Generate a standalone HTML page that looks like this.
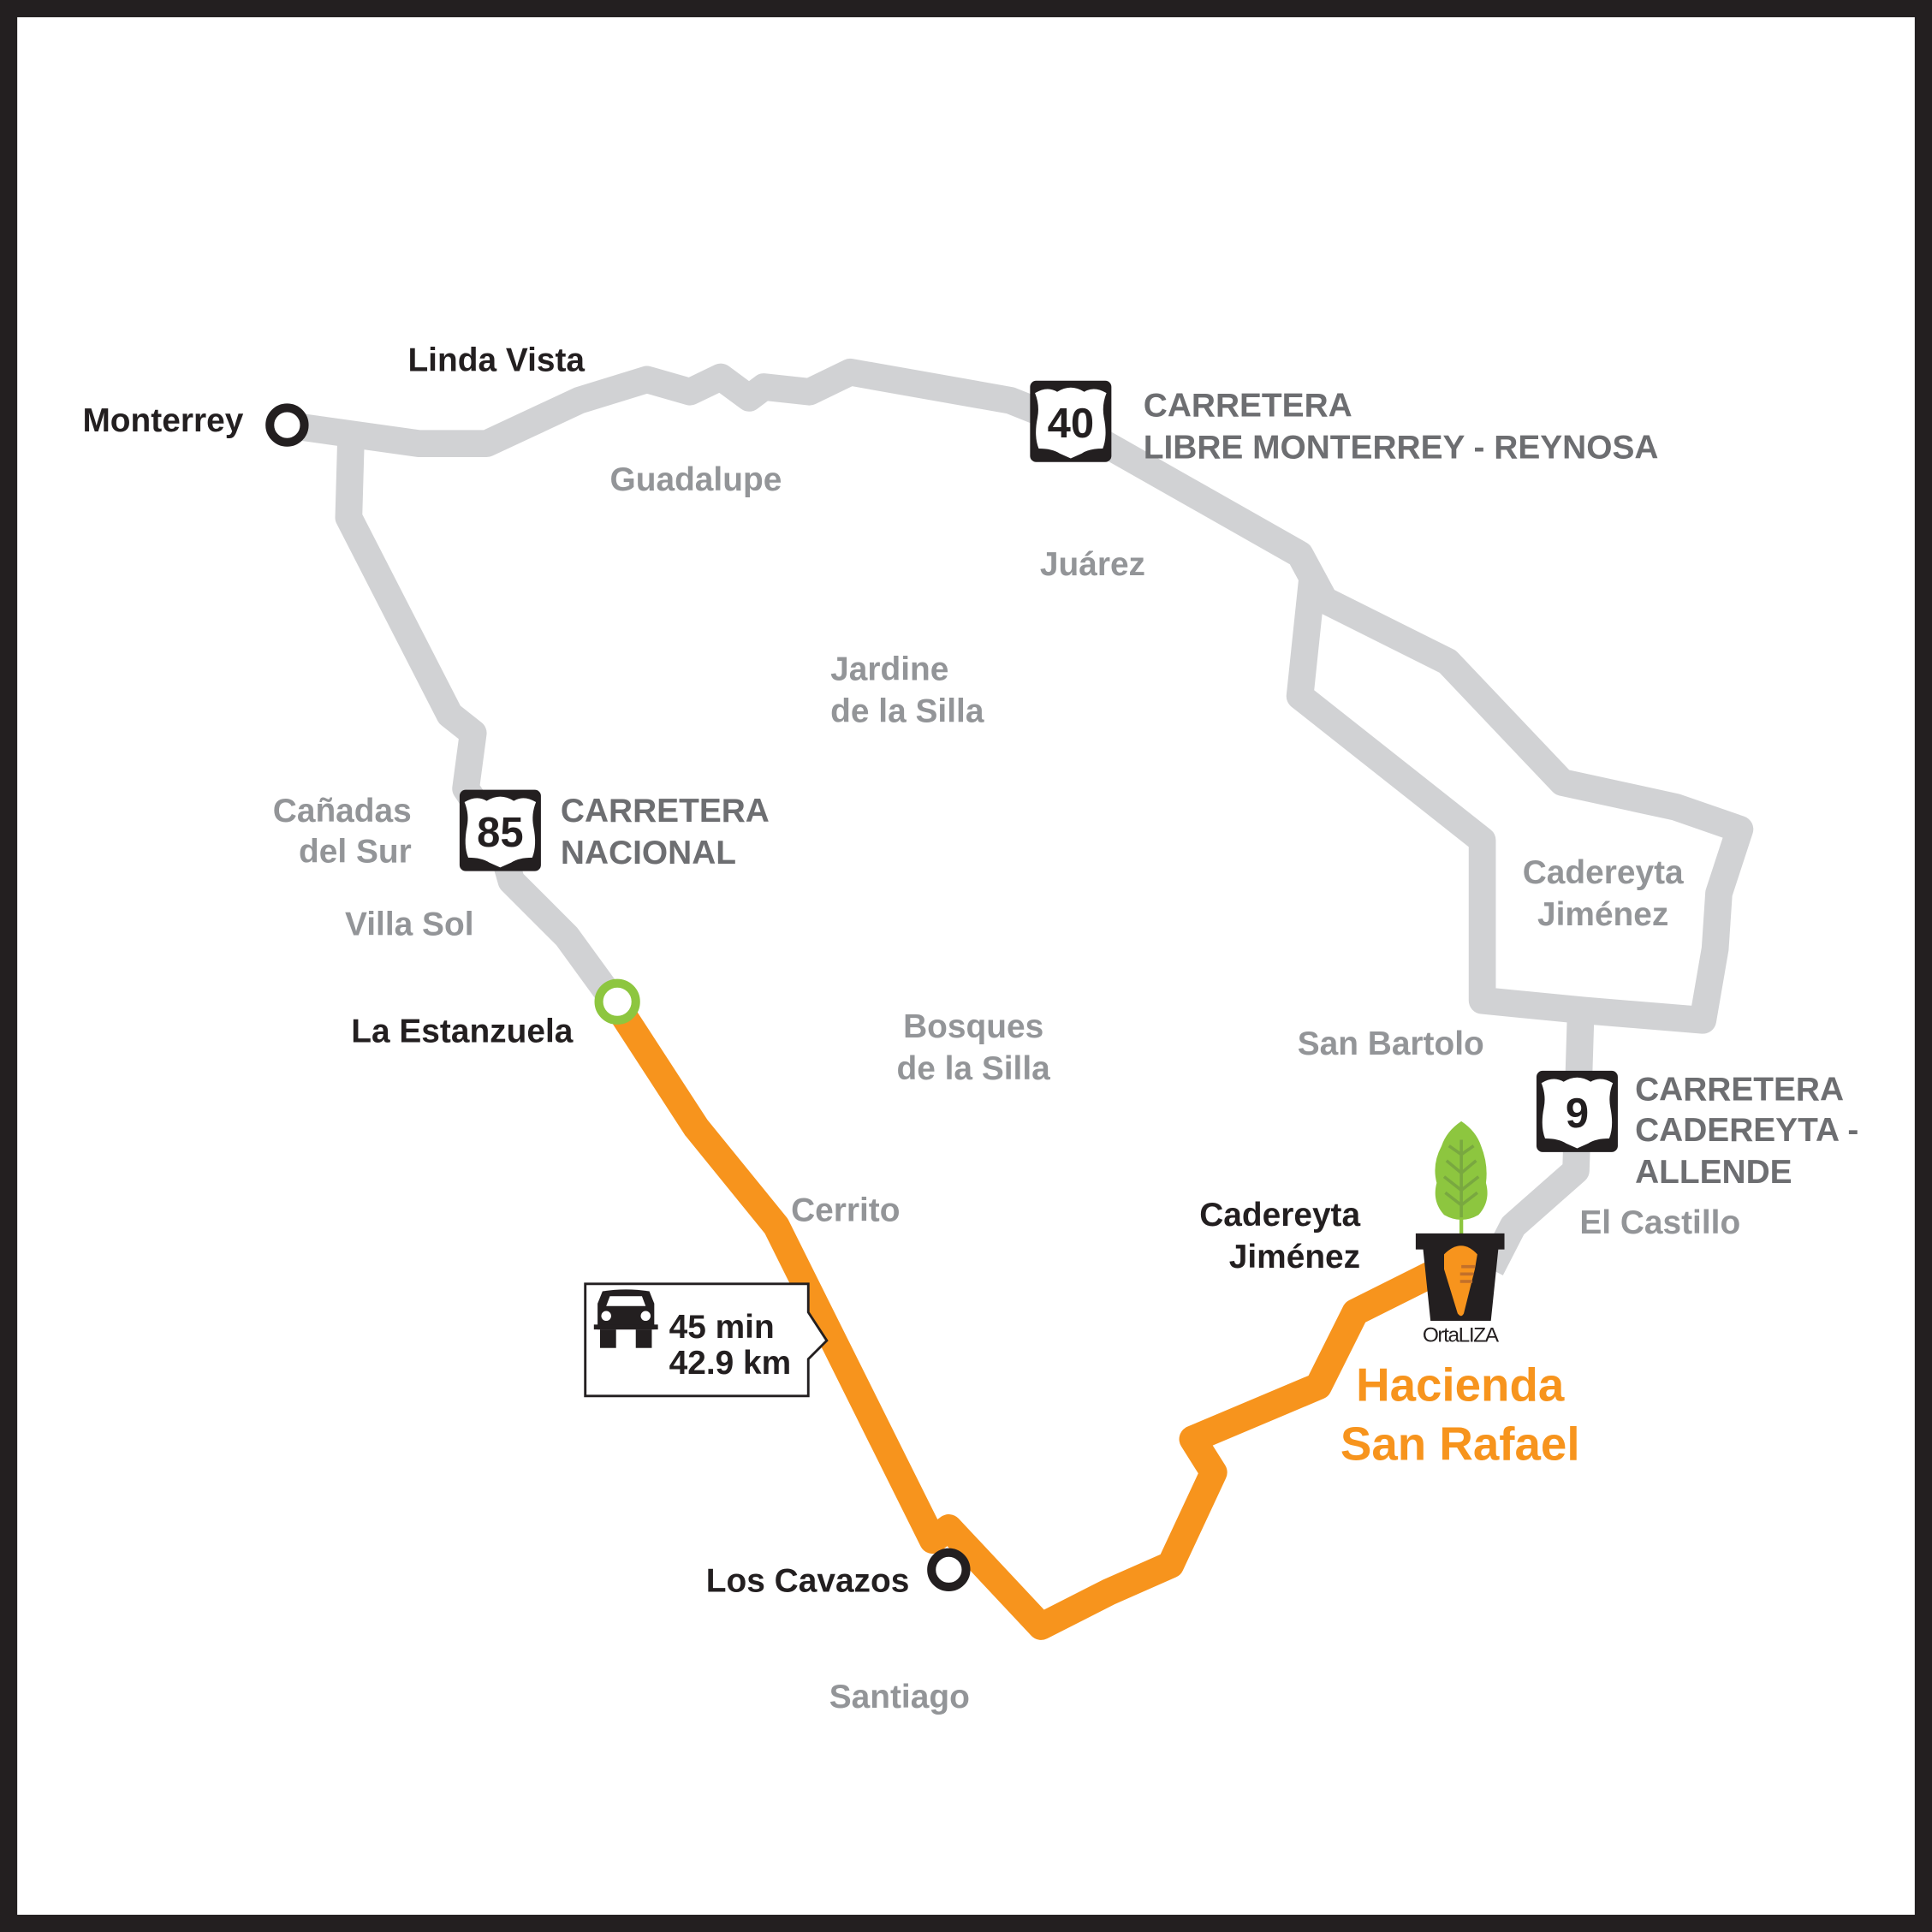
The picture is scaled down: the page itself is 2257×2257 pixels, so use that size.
<!DOCTYPE html>
<html><head><meta charset="utf-8"><style>
html,body{margin:0;padding:0;background:#fff}
svg{display:block}
text{font-family:"Liberation Sans",Arial,sans-serif;font-weight:bold}
.g{fill:#939598;font-size:27px}
.r{fill:#6d6e71;font-size:27px}
.k{fill:#231f20;font-size:27px}
</style></head><body>
<svg width="2257" height="2257" viewBox="0 0 1568 1568" xmlns="http://www.w3.org/2000/svg">
<defs>
<g id="sh">
<rect x="0" y="0" width="66" height="66" rx="5" fill="#231f20"/>
<path d="M4,10 Q14,4 22,9 Q33,2 44,9 Q52,4 62,10 Q58,20 60,30 Q63,45 59,55 Q48,55 42,59 L33,63 L24,59 Q18,55 7,55 Q3,45 6,30 Q8,20 4,10 Z" fill="#fff"/>
</g>
</defs>
<rect x="0" y="0" width="1568" height="1568" fill="#231f20"/>
<rect x="14" y="14" width="1540" height="1540" fill="#fff"/>
<g fill="none" stroke="#d1d2d4" stroke-width="22" stroke-linejoin="round" stroke-linecap="butt">
<path d="M233,345 L340,360 L395,360 L470,325 L525,308 L560,318 L585,306 L608,323 L620,314 L657,318 L690,302 L820,325 L870,345 L1055,450 L1075,487 L1175,537 L1268,635 L1360,655 L1412,673 L1395,725 L1392,770 L1382,828 L1285,820 L1203,812 L1203,682 L1055,565 L1065,470"/>
<path d="M285,350 L283,420 L365,580 L384,595 L378,640 L405,680 L415,715 L460,760 L500,815"/>
<path d="M1283,820 L1279,950 L1228,995 L1210,1030"/>
</g>
<path d="M500,815 L565,915 L630,995 L757,1250 L770,1240 L845,1320 L900,1292 L950,1270 L985,1195 L968,1168 L1070,1125 L1100,1065 L1180,1025" fill="none" stroke="#f7941d" stroke-width="22" stroke-linejoin="round"/>
<circle cx="233" cy="345" r="14" fill="#fff" stroke="#231f20" stroke-width="7"/>
<circle cx="770" cy="1274" r="14" fill="#fff" stroke="#231f20" stroke-width="7"/>
<circle cx="501" cy="813" r="15" fill="#fff" stroke="#8dc63f" stroke-width="7"/>
<use href="#sh" x="836" y="309"/><text x="869" y="355" text-anchor="middle" fill="#231f20" font-size="34">40</text>
<use href="#sh" x="373" y="641"/><text x="406" y="687" text-anchor="middle" fill="#231f20" font-size="34">85</text>
<use href="#sh" x="1247" y="869"/><text x="1280" y="915" text-anchor="middle" fill="#231f20" font-size="34">9</text>
<path d="M475,1042 L656,1042 L656,1065 L671,1088 L656,1103 L656,1133 L475,1133 Z" fill="#fff" stroke="#231f20" stroke-width="2"/>
<g fill="#231f20">
<path d="M485,1058 L489,1048 Q508,1045 527,1048 L531,1058 L531,1079 L485,1079 Z"/>
<rect x="482" y="1075" width="52" height="4"/>
<rect x="487" y="1079" width="13" height="15"/><rect x="516" y="1079" width="13" height="15"/>
</g>
<path d="M492,1060 L495,1052 L521,1052 L524,1060 Z" fill="#fff"/>
<circle cx="492" cy="1068" r="4" fill="#fff"/><circle cx="524" cy="1068" r="4" fill="#fff"/>
<text x="543" y="1086" class="k">45 min</text>
<text x="543" y="1115" class="k">42.9 km</text>
<line x1="1186" y1="960" x2="1186" y2="1002" stroke="#8dc63f" stroke-width="3"/>
<path d="M1186,910 Q1198,918 1202,930 Q1208,945 1206,960 Q1210,975 1200,986 Q1186,994 1172,986 Q1162,975 1166,960 Q1162,945 1170,930 Q1174,918 1186,910 Z" fill="#8dc63f"/>
<g stroke="#79a840" stroke-width="2.5" fill="none"><path d="M1186,925 L1186,988 M1176,930 L1186,937 L1196,930 M1174,942 L1186,952 L1198,942 M1172,955 L1186,966 L1200,955 M1173,968 L1186,978 L1199,968"/></g>
<path d="M1149,1001 L1221,1001 L1221,1014 L1216,1014 L1210,1072 L1161,1072 L1155,1014 L1149,1014 Z" fill="#231f20"/>
<path d="M1172,1018 Q1186,1004 1199,1018 L1197,1030 L1188,1066 Q1186,1070 1183,1066 L1172,1030 Z" fill="#f7941d"/>
<g stroke="#c2702a" stroke-width="2.5"><line x1="1186" y1="1028" x2="1197" y2="1028"/><line x1="1185" y1="1034" x2="1196" y2="1034"/><line x1="1185" y1="1040" x2="1195" y2="1040"/></g>
<text x="1185" y="1089" text-anchor="middle" fill="#231f20" font-size="17" style="font-weight:normal;letter-spacing:-1px">OrtaLIZA</text>
<text x="1185" y="1137" text-anchor="middle" fill="#f7941d" font-size="38">Hacienda</text>
<text x="1185" y="1185" text-anchor="middle" fill="#f7941d" font-size="38">San Rafael</text>
<text x="67" y="350" class="k">Monterrey</text>
<text x="331" y="301" class="k">Linda Vista</text>
<text x="285" y="846" class="k">La Estanzuela</text>
<text x="573" y="1292" class="k">Los Cavazos</text>
<text x="1104" y="995" class="k" text-anchor="end">Cadereyta</text>
<text x="1104" y="1029" class="k" text-anchor="end">Jiménez</text>
<text x="928" y="338" class="r">CARRETERA</text>
<text x="928" y="372" class="r">LIBRE MONTERREY - REYNOSA</text>
<text x="455" y="667" class="r">CARRETERA</text>
<text x="455" y="701" class="r">NACIONAL</text>
<text x="1327" y="893" class="r">CARRETERA</text>
<text x="1327" y="926" class="r">CADEREYTA -</text>
<text x="1327" y="960" class="r">ALLENDE</text>
<text x="495" y="398" class="g">Guadalupe</text>
<text x="844" y="467" class="g">Juárez</text>
<text x="674" y="552" class="g">Jardine</text>
<text x="674" y="586" class="g">de la Silla</text>
<text x="334" y="667" class="g" text-anchor="end">Cañadas</text>
<text x="334" y="700" class="g" text-anchor="end">del Sur</text>
<text x="280" y="759" class="g">Villa Sol</text>
<text x="790" y="842" class="g" text-anchor="middle">Bosques</text>
<text x="790" y="876" class="g" text-anchor="middle">de la Silla</text>
<text x="1301" y="717" class="g" text-anchor="middle">Cadereyta</text>
<text x="1301" y="751" class="g" text-anchor="middle">Jiménez</text>
<text x="1053" y="856" class="g">San Bartolo</text>
<text x="642" y="991" class="g">Cerrito</text>
<text x="1282" y="1001" class="g">El Castillo</text>
<text x="673" y="1386" class="g">Santiago</text>
</svg>
</body></html>
